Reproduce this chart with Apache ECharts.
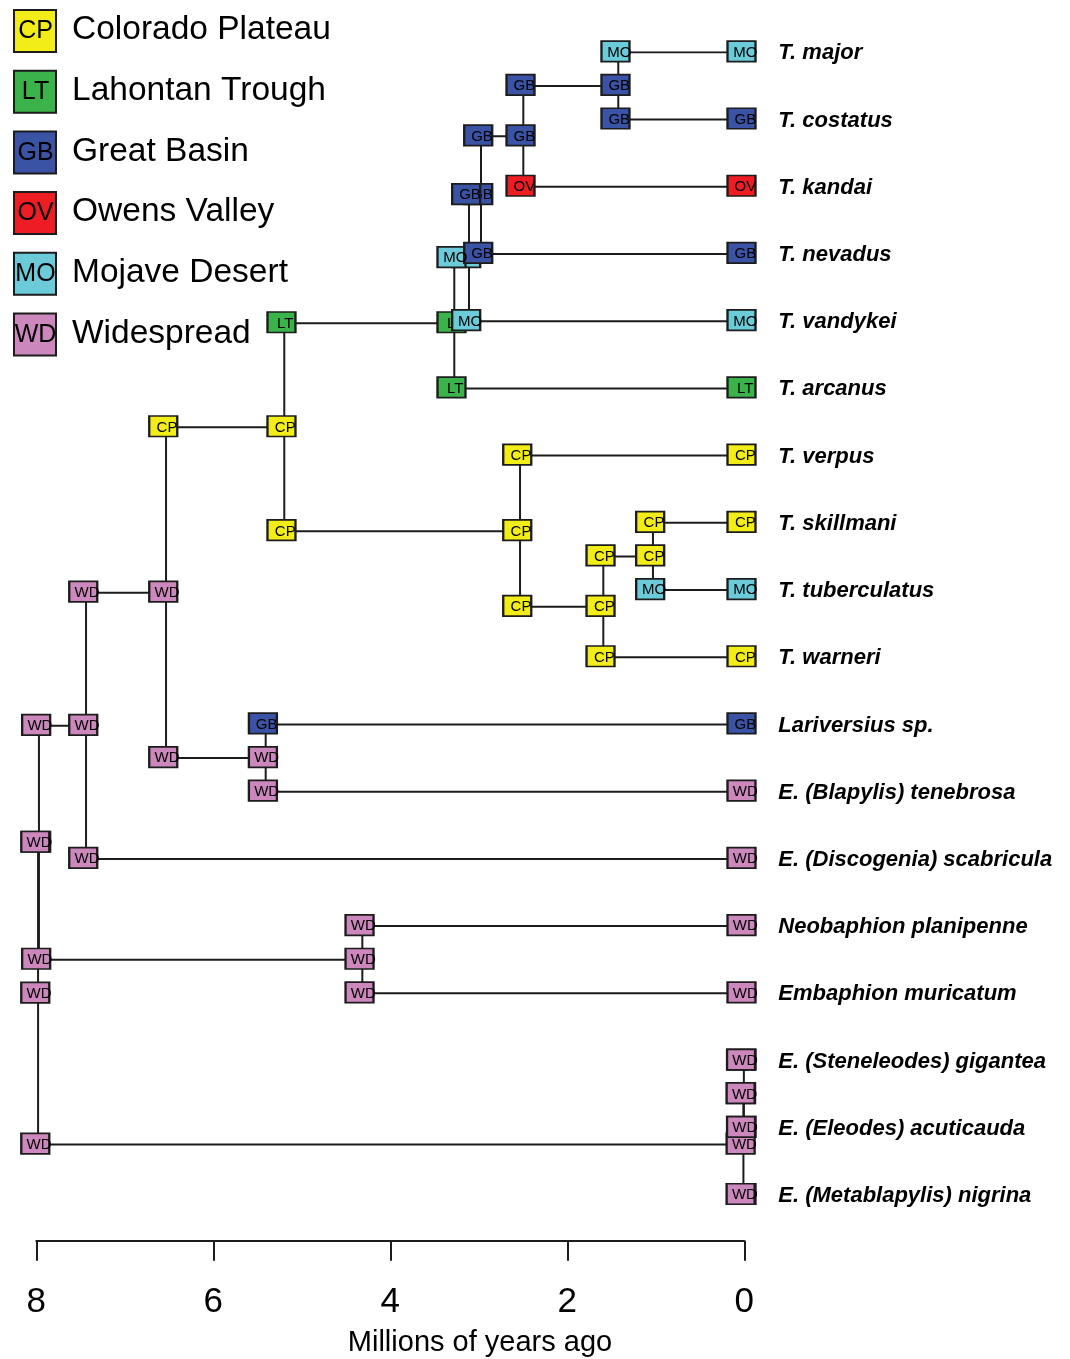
<!DOCTYPE html>
<html>
<head>
<meta charset="utf-8">
<script src="https://cdn.jsdelivr.net/npm/echarts@6/dist/echarts.min.js"></script>
<style>html,body{margin:0;padding:0;background:#fff}#c{width:1070px;height:1359px}</style>
</head>
<body>
<div id="c"></div>
<script>
// ---- data ----
const areaCodes = ['CP', 'LT', 'GB', 'OV', 'MO', 'WD'];
const areaNames = ['Colorado Plateau', 'Lahontan Trough', 'Great Basin', 'Owens Valley', 'Mojave Desert', 'Widespread'];
const areaColors = ['#F2EC19', '#3BB34A', '#3A53A4', '#EE1D24', '#6BCBD9', '#CC88BD'];

const tipNames = ['T. major', 'T. costatus', 'T. kandai', 'T. nevadus', 'T. vandykei', 'T. arcanus',
  'T. verpus', 'T. skillmani', 'T. tuberculatus', 'T. warneri', 'Lariversius sp.',
  'E. (Blapylis) tenebrosa', 'E. (Discogenia) scabricula', 'Neobaphion planipenne',
  'Embaphion muricatum', 'E. (Steneleodes) gigantea', 'E. (Eleodes) acuticauda', 'E. (Metablapylis) nigrina'];
const tipStates = ['MO', 'GB', 'OV', 'GB', 'MO', 'LT', 'CP', 'CP', 'MO', 'CP', 'GB', 'WD', 'WD', 'WD', 'WD', 'WD', 'WD', 'WD'];

// internal nodes, listed root first (drawing order)
const nodeIds      = ['root', 'n13', 'e2', 'e1', 'n12', 'n14', 'n10', 'n11', 'n6', 'n5', 'n4', 'n3', 'n2', 'n1', 'n7', 'n8', 'n9'];
const nodeChildren = [['n13', 'e2'], ['n12', 'n14'], ['e1', 't17'], ['t15', 't16'], ['n10', 't12'], ['t13', 't14'],
  ['n6', 'n11'], ['t10', 't11'], ['n5', 'n7'], ['n4', 't5'], ['n3', 't4'], ['n2', 't3'], ['n1', 't2'], ['t0', 't1'],
  ['t6', 'n8'], ['n9', 't9'], ['t7', 't8']];
const nodeTimes    = [7.98, 7.97, 0.01, 0.005, 7.438, 4.316, 6.534, 5.408, 5.198, 3.277, 3.111, 2.975, 2.497, 1.424, 2.534, 1.593, 1.032];
const nodeStates   = ['WD', 'WD', 'WD', 'WD', 'WD', 'WD', 'WD', 'WD', 'CP', 'LT', 'MO', 'GB', 'GB', 'GB', 'CP', 'CP', 'CP'];
const cornerStates = [['WD', 'WD'], ['WD', 'WD'], ['WD', 'WD'], ['WD', 'WD'], ['WD', 'WD'], ['WD', 'WD'],
  ['CP', 'WD'], ['GB', 'WD'], ['LT', 'CP'], ['MO', 'LT'], ['GB', 'MO'], ['GB', 'GB'], ['GB', 'OV'], ['MO', 'GB'],
  ['CP', 'CP'], ['CP', 'CP'], ['CP', 'MO']];

const xTicks = [8, 6, 4, 2, 0];

// ---- tree layout (cladogram: node row = mean of its children's rows) ----
const colorOf = {};
areaCodes.forEach((c, i) => colorOf[c] = areaColors[i]);
const idx = {};
nodeIds.forEach((id, i) => idx[id] = i);
const rowMemo = {};
function rowOf(id) {
  if (id[0] === 't') return +id.slice(1);
  if (rowMemo[id] !== undefined) return rowMemo[id];
  const ch = nodeChildren[idx[id]];
  return (rowMemo[id] = (rowOf(ch[0]) + rowOf(ch[1])) / 2);
}
function timeOf(id) { return id[0] === 't' ? 0 : nodeTimes[idx[id]]; }

const branchData = nodeIds.map((id, i) => {
  const [a, b] = nodeChildren[i];
  const t = nodeTimes[i];
  return { coords: [[timeOf(a), rowOf(a)], [t, rowOf(a)], [t, rowOf(b)], [timeOf(b), rowOf(b)]] };
});
const tipBoxData = tipStates.map((s, i) => [0, i, s]);
const nodeBoxData = nodeIds.map((id, i) => [nodeTimes[i], rowOf(id), nodeStates[i]]);
const cornerBoxData = [];
nodeIds.forEach((id, i) => {
  nodeChildren[i].forEach((c, k) => cornerBoxData.push([nodeTimes[i], rowOf(c), cornerStates[i][k]]));
});
const tipLabelData = tipNames.map((n, i) => [0, i, n]);

const FONT = '"Liberation Sans", Arial, Helvetica, sans-serif';
function boxSeries(data, z) {
  return {
    type: 'scatter', data: data, z: z, clip: false, silent: true,
    symbol: 'rect', symbolSize: [28, 20.5], symbolOffset: [-2.8, -1],
    itemStyle: { color: p => colorOf[p.value[2]], borderColor: '#1c1c1c', borderWidth: 2, opacity: 1 },
    label: { show: true, position: 'inside', offset: [3.8, 1.2], formatter: p => p.value[2], opacity: 1,
      fontSize: 15, fontFamily: FONT, color: '#000', textBorderWidth: 0, textShadowBlur: 0 }
  };
}

// legend drawn as graphic elements
const graphics = [];
areaCodes.forEach((c, i) => {
  const top = 10 + i * 60.7;
  graphics.push({ type: 'rect', shape: { x: 14, y: top, width: 42, height: 42 },
    style: { fill: areaColors[i], stroke: '#1c1c1c', lineWidth: 2 }, z: 10 });
  graphics.push({ type: 'text', x: 35.5, y: top + 21.5, z: 11,
    style: { text: c, fill: '#000', font: '25px ' + FONT, textAlign: 'center', textVerticalAlign: 'middle' } });
  graphics.push({ type: 'text', x: 72, y: top + 20, z: 11,
    style: { text: areaNames[i], fill: '#000', font: '33.5px ' + FONT, textAlign: 'left', textVerticalAlign: 'middle' } });
});
graphics.push({ type: 'text', x: 480, y: 1343, z: 11,
  style: { text: 'Millions of years ago', fill: '#000', font: '29px ' + FONT, textAlign: 'center', textVerticalAlign: 'middle' } });

const chart = echarts.init(document.getElementById('c'), null, { renderer: 'canvas' });
chart.setOption({
  animation: false,
  backgroundColor: '#fff',
  grid: { left: 36.3, right: 325.7, top: 52.3, bottom: 118.3, containLabel: false },
  xAxis: {
    type: 'value', min: 0, max: 8, interval: 2, inverse: true, position: 'bottom',
    axisLine: { show: true, onZero: false, lineStyle: { color: '#1c1c1c', width: 2 } },
    axisTick: { show: true, length: 20, lineStyle: { color: '#1c1c1c', width: 2 } },
    axisLabel: { fontSize: 35, fontFamily: FONT, color: '#000', margin: 44,
      formatter: v => xTicks.indexOf(v) >= 0 ? String(v) : '' },
    splitLine: { show: false }
  },
  yAxis: { type: 'value', min: 0, max: 17.68, inverse: true, show: false },
  graphic: graphics,
  series: [
    { type: 'lines', coordinateSystem: 'cartesian2d', polyline: true, silent: true, z: 1,
      lineStyle: { color: '#1c1c1c', width: 2, opacity: 1 }, data: branchData },
    boxSeries(tipBoxData, 2),
    boxSeries(nodeBoxData, 3),
    boxSeries(cornerBoxData, 4),
    { type: 'custom', data: tipLabelData, clip: false, silent: true, z: 5,
      renderItem: (params, api) => {
        const p = api.coord([api.value(0), api.value(1)]);
        return { type: 'text', x: p[0] + 34, y: p[1] + 1,
          style: { text: tipLabelData[params.dataIndex][2], fill: '#000', opacity: 1,
            font: 'italic bold 22px ' + FONT, textAlign: 'left', textVerticalAlign: 'middle' } };
      } }
  ]
});
</script>
</body>
</html>
